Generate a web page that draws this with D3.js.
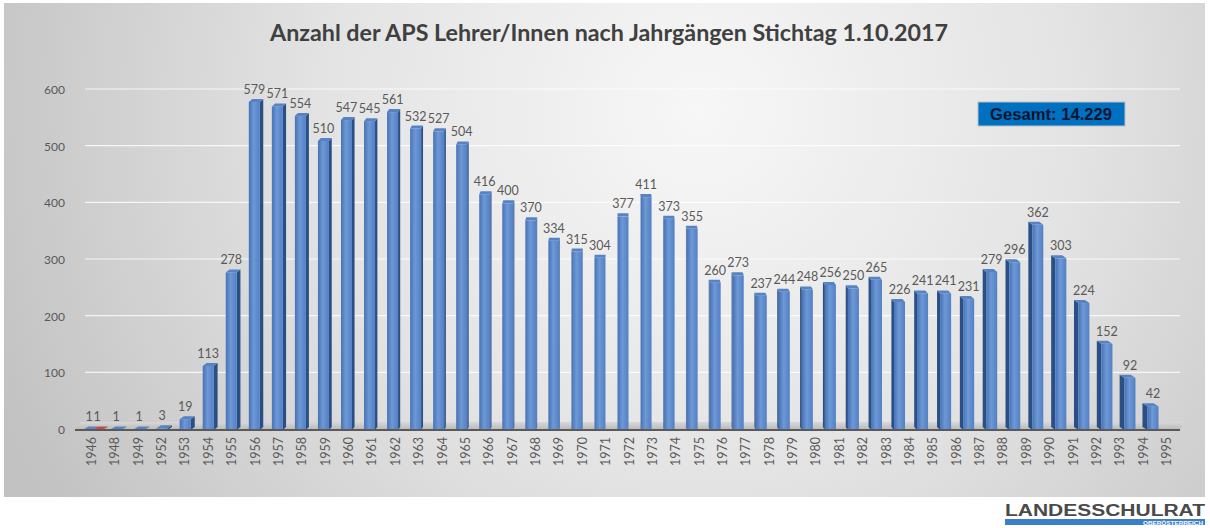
<!DOCTYPE html>
<html><head><meta charset="utf-8">
<script src="https://cdn.jsdelivr.net/npm/d3@7"></script>
<style>html,body{margin:0;padding:0;background:#fff;}svg{display:block;}</style>
</head><body>
<svg id="chart" width="1210" height="528"></svg>
<script>
const years = ["1946","1948","1949","1952","1953","1954","1955","1956","1957","1958","1959","1960","1961","1962","1963","1964","1965","1966","1967","1968","1969","1970","1971","1972","1973","1974","1975","1976","1977","1978","1979","1980","1981","1982","1983","1984","1985","1986","1987","1988","1989","1990","1991","1992","1993","1994","1995"];
const values = [1,1,1,3,19,113,278,579,571,554,510,547,545,561,532,527,504,416,400,370,334,315,304,377,411,373,355,260,273,237,244,248,256,250,265,226,241,241,231,279,296,362,303,224,152,92,42];
const redYear = "1946";
const redValue = 1;
const yTicks = [0,100,200,300,400,500,600];
const titleText = "Anzahl der APS Lehrer/Innen nach Jahrgängen Stichtag 1.10.2017";
const totalText = "Gesamt: 14.229";

const svg = d3.select("#chart");
const defs = svg.append("defs");

// background gradient
const bg = defs.append("radialGradient").attr("id","bg").attr("gradientUnits","userSpaceOnUse")
  .attr("cx",700).attr("cy",110).attr("r",760);
bg.append("stop").attr("offset","0").attr("stop-color","#f7f7f7");
bg.append("stop").attr("offset","0.5").attr("stop-color","#e3e3e3");
bg.append("stop").attr("offset","1").attr("stop-color","#c2c2c2");
svg.append("rect").attr("x",4).attr("y",3).attr("width",1201).attr("height",494).attr("fill","url(#bg)");

// bar gradients
const front = defs.append("linearGradient").attr("id","front").attr("x1","0").attr("x2","1").attr("y1","0").attr("y2","0");
front.append("stop").attr("offset","0").attr("stop-color","#4673b5");
front.append("stop").attr("offset","0.45").attr("stop-color","#6e98d6");
front.append("stop").attr("offset","1").attr("stop-color","#5180c4");
const redF = defs.append("linearGradient").attr("id","redf").attr("x1","0").attr("x2","1");
redF.append("stop").attr("offset","0").attr("stop-color","#b03a3a");
redF.append("stop").attr("offset","1").attr("stop-color","#d65555");
const floorG = defs.append("linearGradient").attr("id","floor").attr("x1","0").attr("x2","0").attr("y1","0").attr("y2","1");
floorG.append("stop").attr("offset","0").attr("stop-color","#d8d8d8");
floorG.append("stop").attr("offset","1").attr("stop-color","#b8b8b8");

const y = d3.scaleLinear().domain([0,600]).range([430,90]);
const xLabel = d3.scalePoint().domain(years).range([92,1167]);
const xBar = d3.scalePoint().domain(years).range([93,1153]);
const plotL = 75, plotR = 1180, persp = 620;

// gridlines
svg.append("g").selectAll("line").data(yTicks.filter(d=>d>0)).join("line")
  .attr("x1",plotL+10).attr("x2",plotR).attr("y1",d=>y(d)-1).attr("y2",d=>y(d)-1)
  .attr("stroke","#ffffff").attr("stroke-opacity",0.8).attr("stroke-width",1.2);

// y tick labels
svg.append("g").selectAll("text").data(yTicks).join("text")
  .attr("x",65).attr("y",d=>y(d)+4).attr("text-anchor","end")
  .attr("font-family","Lato, 'Open Sans', sans-serif").attr("font-size",12).attr("fill","#595959")
  .text(d=>d);

// floor
svg.append("polygon").attr("points",[[plotL,430],[plotL+6,422],[plotR+4,422],[plotR,430]].map(p=>p.join(",")).join(" "))
  .attr("fill","url(#floor)");

function drawBar(g, cx, w, v, frontFill, sideFill, topFill){
  const xl = cx - w/2, xr = cx + w/2;
  const yt = y(v), yb = 430;
  const dx = (persp - cx)/530*5, dy = 3;
  if (Math.abs(dx) > 0.3) {
    const xs = dx > 0 ? xr : xl;
    g.append("polygon").attr("points",[[xs,yt],[xs+dx,yt-dy],[xs+dx,yb-dy],[xs,yb]].map(p=>p.join(",")).join(" "))
      .attr("fill",sideFill);
  }
  g.append("rect").attr("x",xl).attr("y",yt).attr("width",w).attr("height",Math.max(0,yb-yt)).attr("fill",frontFill);
  g.append("polygon").attr("points",[[xl,yt],[xr,yt],[xr+dx,yt-dy],[xl+dx,yt-dy]].map(p=>p.join(",")).join(" "))
    .attr("fill",topFill);
}

const barsG = svg.append("g");
years.forEach((yr,i)=>{
  const cx = xBar(yr);
  if (yr === redYear) {
    drawBar(barsG, cx-5, 9, values[i], "url(#front)", "#2a4f86", "#5683c4");
    drawBar(barsG, cx+5, 9, redValue, "url(#redf)", "#8a2a2a", "#c84848");
  } else {
    drawBar(barsG, cx, 11, values[i], "url(#front)", "#2a4f86", "#5683c4");
  }
});

// value labels
const lbl = [];
years.forEach((yr,i)=>{
  const cx = xBar(yr);
  if (yr === redYear) {
    lbl.push({x:cx-4, v:values[i]});
    lbl.push({x:cx+4, v:redValue});
  } else lbl.push({x:cx, v:values[i]});
});
svg.append("g").selectAll("text").data(lbl).join("text")
  .attr("x",d=>d.x).attr("y",d=>y(d.v)-8).attr("text-anchor","middle")
  .attr("font-family","Lato, 'Open Sans', sans-serif").attr("font-size",12.5).attr("fill","#595959")
  .text(d=>d.v);

// axis line
svg.append("line").attr("x1",plotL).attr("x2",plotR).attr("y1",430).attr("y2",430)
  .attr("stroke","#5a5a5a").attr("stroke-width",2);

// x labels
svg.append("g").selectAll("text").data(years).join("text")
  .attr("transform",d=>`translate(${xLabel(d)+4},437) rotate(-90)`)
  .attr("text-anchor","end")
  .attr("font-family","Lato, 'Open Sans', sans-serif").attr("font-size",12.5).attr("fill","#595959")
  .text(d=>d);

// title
svg.append("text").attr("x",609).attr("y",41).attr("text-anchor","middle")
  .attr("font-family","Lato, 'Open Sans', sans-serif").attr("font-weight","bold").attr("font-size",22)
  .attr("fill","#404040").attr("textLength",678).attr("lengthAdjust","spacingAndGlyphs")
  .text(titleText);

// total box
svg.append("rect").attr("x",978).attr("y",102).attr("width",147).attr("height",24)
  .attr("fill","#0070c0").attr("stroke","#bfbfbf").attr("stroke-width",1);
svg.append("text").attr("x",1051).attr("y",120).attr("text-anchor","middle")
  .attr("font-family","'Liberation Sans', Arial, sans-serif").attr("font-weight","bold").attr("font-size",16)
  .attr("fill","#0b1530").attr("textLength",122).attr("lengthAdjust","spacingAndGlyphs").text(totalText);

// logo
svg.append("text").attr("x",1005).attr("y",516)
  .attr("font-family","'Liberation Sans', Arial, sans-serif").attr("font-weight","bold").attr("font-size",16)
  .attr("fill","#4a4a4a").attr("textLength",200).attr("lengthAdjust","spacingAndGlyphs").text("LANDESSCHULRAT");
svg.append("rect").attr("x",1005).attr("y",519).attr("width",200).attr("height",6).attr("fill","#3a7fc8");
svg.append("text").attr("x",1203).attr("y",524.5).attr("text-anchor","end")
  .attr("font-family","'Liberation Sans', Arial, sans-serif").attr("font-weight","bold").attr("font-size",5)
  .attr("fill","#ffffff").attr("textLength",60).attr("lengthAdjust","spacingAndGlyphs").text("OBERÖSTERREICH");
</script>
</body></html>
